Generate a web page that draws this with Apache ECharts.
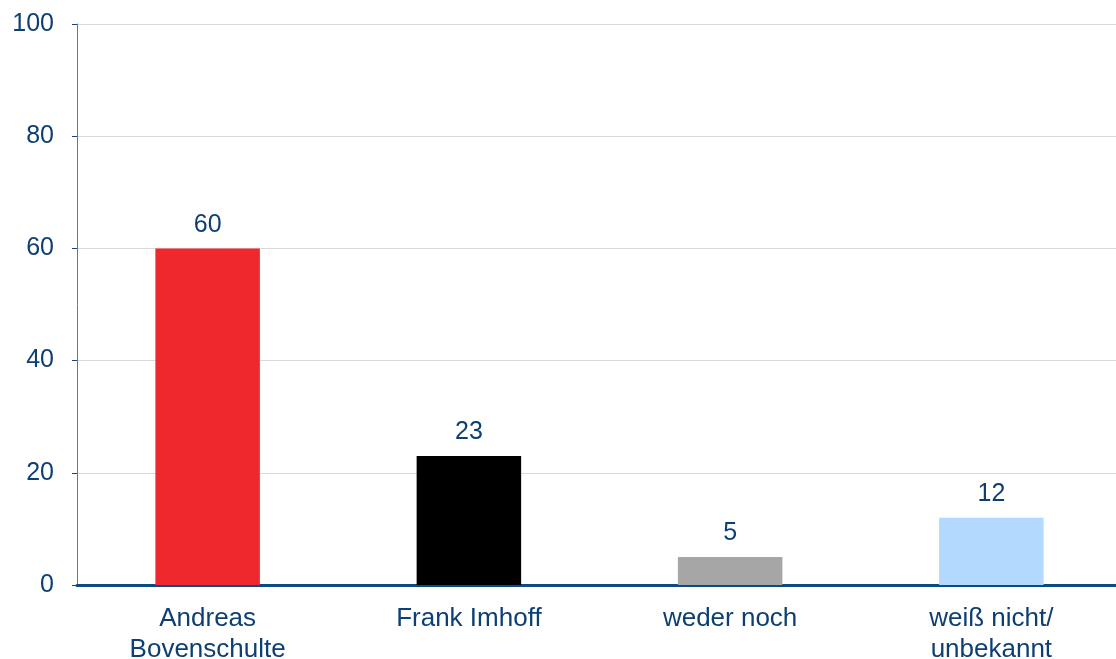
<!DOCTYPE html>
<html>
<head>
<meta charset="utf-8">
<script src="https://cdn.jsdelivr.net/npm/echarts@6/dist/echarts.min.js"></script>
<style>
  html, body { margin: 0; padding: 0; background: #fff; }
  #chart { width: 1116px; height: 659px; }
</style>
</head>
<body>
<div id="chart"></div>
<script>
var categories = ['Andreas\nBovenschulte', 'Frank Imhoff', 'weder noch', 'weiß nicht/\nunbekannt'];
var values = [60, 23, 5, 12];
var barColors = ['#ee282d', '#000000', '#a6a6a6', '#b3dafe'];
var yTicks = [0, 20, 40, 60, 80, 100];

var textColor = '#0d3f73';
var fontFamily = 'Liberation Sans, Arial, sans-serif';
var myChart = echarts.init(document.getElementById('chart'));

var option = {
    animation: false,
    grid: {
        left: 77,
        right: -6,
        top: 24,
        bottom: 74,
        outerBoundsMode: 'none',
        containLabel: false
    },
    xAxis: {
        type: 'category',
        data: categories,
        axisLine: {
            show: true,
            lineStyle: { color: '#0b4a87', width: 3 }
        },
        axisTick: { show: false },
        axisLabel: {
            color: textColor,
            fontFamily: fontFamily,
            fontSize: 26,
            lineHeight: 31,
            margin: 18
        }
    },
    yAxis: {
        type: 'value',
        min: yTicks[0],
        max: yTicks[yTicks.length - 1],
        interval: 20,
        axisLine: {
            show: true,
            lineStyle: { color: '#4f7faf', width: 1 }
        },
        axisTick: {
            show: true,
            length: 5,
            lineStyle: { color: '#0b4a87' }
        },
        splitLine: {
            show: true,
            lineStyle: { color: '#d9d9d9', width: 1 }
        },
        axisLabel: {
            color: textColor,
            fontFamily: fontFamily,
            fontSize: 25,
            margin: 23
        }
    },
    series: [{
        type: 'bar',
        barWidth: '40%',
        data: values.map(function (v, i) {
            return { value: v, itemStyle: { color: barColors[i] } };
        }),
        label: {
            show: true,
            position: 'top',
            distance: 11,
            color: textColor,
            fontFamily: fontFamily,
            fontSize: 25
        }
    }]
};

option && myChart.setOption(option);
</script>
</body>
</html>
